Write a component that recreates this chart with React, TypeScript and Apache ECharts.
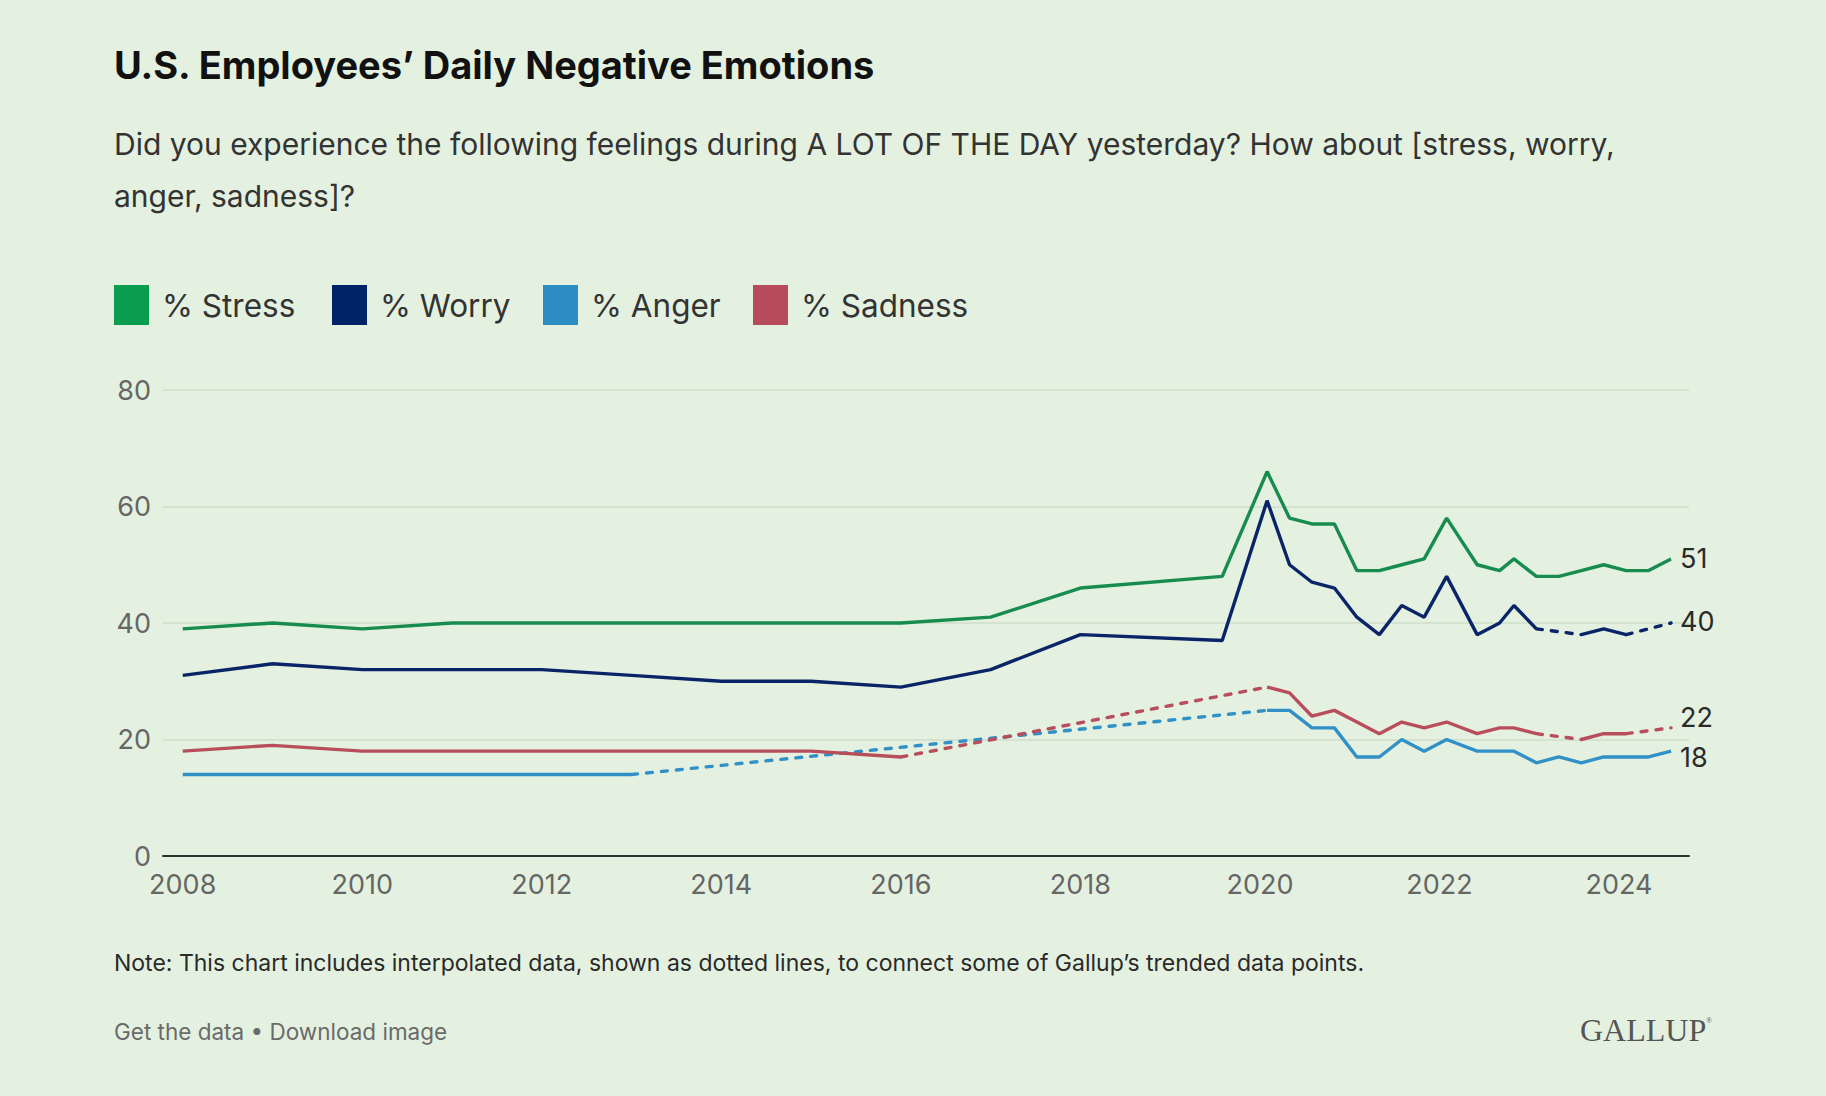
import React, { useEffect, useRef } from "react";
import * as echarts from "echarts";

// ---------- data ----------
const periods = [
  2008, 2009, 2010, 2011, 2012, 2013, 2014, 2015, 2016, 2017, 2018, 2019.58,
  2020.08, 2020.33, 2020.58, 2020.83, 2021.08, 2021.33, 2021.58, 2021.83,
  2022.08, 2022.42, 2022.67, 2022.83, 2023.08, 2023.33, 2023.58, 2023.83,
  2024.08, 2024.33, 2024.58,
];
const stress = [
  39, 40, 39, 40, 40, 40, 40, 40, 40, 41, 46, 48,
  66, 58, 57, 57, 49, 49, 50, 51,
  58, 50, 49, 51, 48, 48, 49, 50,
  49, 49, 51,
];
const worry = [
  31, 33, 32, 32, 32, 31, 30, 30, 29, 32, 38, 37,
  61, 50, 47, 46, 41, 38, 43, 41,
  48, 38, 40, 43, 39, null, 38, 39,
  38, null, 40,
];
const anger = [
  14, 14, 14, 14, 14, 14, null, null, null, null, null, null,
  25, 25, 22, 22, 17, 17, 20, 18,
  20, 18, 18, 18, 16, 17, 16, 17,
  17, 17, 18,
];
const sadness = [
  18, 19, 18, 18, 18, 18, 18, 18, 17, null, null, null,
  29, 28, 24, 25, 23, 21, 23, 22,
  23, 21, 22, 22, 21, null, 20, 21,
  21, null, 22,
];
const xTickLabels = [2008, 2010, 2012, 2014, 2016, 2018, 2020, 2022, 2024];
const seriesNames = ["% Stress", "% Worry", "% Anger", "% Sadness"];

const TITLE = "U.S. Employees\u2019 Daily Negative Emotions";
const SUBTITLE =
  "Did you experience the following feelings during A LOT OF THE DAY yesterday? How about [stress, worry,\nanger, sadness]?";
const NOTE =
  "Note: This chart includes interpolated data, shown as dotted lines, to connect some of Gallup\u2019s trended data points.";
const FOOTER = "Get the data \u2022 Download image";

// ---------- styling ----------
const FONT = 'Inter, "Liberation Sans", Arial, sans-serif';
const legendColors = ["#0b9d4f", "#012169", "#2b8dc4", "#b84b5b"];
const lineColors = ["#178c4e", "#0a2468", "#3190c6", "#b84e5c"];
const endOffsets = [0, -2, 6, -10];
const legendLefts = [114, 332, 543, 753];

function solidData(vals: (number | null)[]) {
  return periods.map((p, i) => [p, vals[i]]);
}

function dashedData(vals: (number | null)[]) {
  const out: any[] = [];
  let lastIdx = -1;
  for (let i = 0; i < vals.length; i++) {
    if (vals[i] === null) continue;
    if (lastIdx >= 0 && i - lastIdx > 1) {
      if (out.length) out.push([(periods[lastIdx] + periods[i]) / 2, null]);
      out.push([periods[lastIdx], vals[lastIdx]]);
      out.push([periods[i], vals[i]]);
    }
    lastIdx = i;
  }
  return out;
}

export default function App() {
  const ref = useRef<HTMLDivElement>(null);
  useEffect(() => {
    if (!ref.current) return;
    const chart = echarts.init(ref.current, null, { renderer: "svg" });
    const allVals = [stress, worry, anger, sadness];
    const series: any[] = [];
    allVals.forEach((vals, k) => {
      series.push({
        name: seriesNames[k],
        type: "line",
        data: solidData(vals),
        showSymbol: false,
        connectNulls: false,
        itemStyle: { color: legendColors[k] },
        lineStyle: { color: lineColors[k], width: 3.4 },
        z: 3 + (3 - k),
        endLabel: {
          show: true,
          formatter: (p: any) => String(p.value[1]),
          color: "#2a2a2a",
          fontSize: 27,
          fontFamily: FONT,
          distance: 9,
          offset: [0, endOffsets[k]],
        },
      });
      const d = dashedData(vals);
      if (d.length) {
        series.push({
          name: seriesNames[k],
          type: "line",
          data: d,
          showSymbol: false,
          connectNulls: false,
          itemStyle: { color: legendColors[k] },
          lineStyle: { color: lineColors[k], width: 3.4, type: [6, 9], cap: "round" },
          z: 2,
        });
      }
    });

    chart.setOption({
      animation: false,
      backgroundColor: "#e4f1e0",
      textStyle: { fontFamily: FONT },
      title: [
        {
          text: TITLE,
          left: 114,
          top: 46,
          padding: 0,
          textStyle: { fontSize: 38, fontWeight: "bold", color: "#111", fontFamily: FONT },
        },
        {
          text: SUBTITLE,
          left: 114,
          top: 118,
          padding: 0,
          textStyle: { fontSize: 30, fontWeight: "normal", color: "#333", lineHeight: 52, fontFamily: FONT },
        },
      ],
      legend: seriesNames.map((n, i) => ({
        data: [n],
        left: legendLefts[i],
        top: 285,
        padding: 0,
        itemWidth: 35,
        itemHeight: 40,
        icon: "rect",
        selectedMode: false,
        textStyle: { fontSize: 31.5, color: "#333", padding: [0, 0, 0, 8], fontFamily: FONT },
      })),
      grid: { left: 163, right: 137, top: 390, bottom: 240 },
      xAxis: {
        type: "value",
        min: 2007.78,
        max: 2024.78,
        axisLine: { lineStyle: { color: "#2e2e2e", width: 2 } },
        axisTick: { show: false },
        splitLine: { show: false },
        axisLabel: {
          customValues: xTickLabels,
          formatter: (v: number) => String(v),
          fontSize: 27,
          color: "#666",
          margin: 15,
          fontFamily: FONT,
        },
      },
      yAxis: {
        type: "value",
        min: 0,
        max: 80,
        interval: 20,
        axisLine: { show: false },
        axisTick: { show: false },
        splitLine: { lineStyle: { color: "#cfdccb", width: 1.5 } },
        axisLabel: { fontSize: 27, color: "#666", margin: 12, fontFamily: FONT },
      },
      graphic: [
        {
          type: "text",
          left: 114,
          top: 951,
          style: { text: NOTE, fill: "#2a2a2a", font: `23px ${FONT}` },
        },
        {
          type: "text",
          left: 114,
          top: 1020,
          style: { text: FOOTER, fill: "#6a6a6a", font: `22.5px ${FONT}` },
        },
        {
          type: "text",
          left: 1580,
          top: 1014,
          style: { text: "GALLUP", fill: "#555", font: `32px "Liberation Serif", serif` },
        },
        {
          type: "text",
          left: 1706,
          top: 1016,
          style: { text: "\u00ae", fill: "#555", font: `8px "Liberation Serif", serif` },
        },
      ],
      series,
    });
    return () => chart.dispose();
  }, []);
  return (
    <div
      ref={ref}
      style={{ position: "fixed", left: 0, top: 0, width: 1826, height: 1096 }}
    />
  );
}
